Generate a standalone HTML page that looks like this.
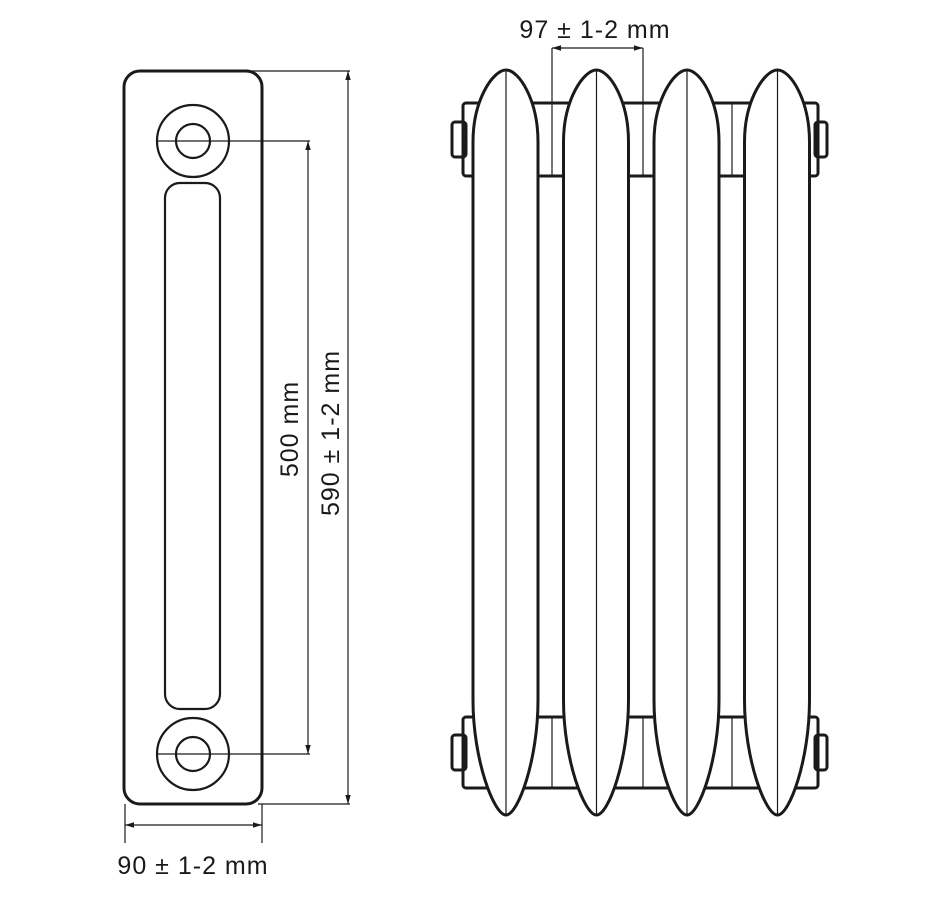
<!DOCTYPE html>
<html><head><meta charset="utf-8"><style>
html,body{margin:0;padding:0;background:#fff;}
svg{display:block;}
text{font-family:"Liberation Sans",sans-serif;fill:#1a1a1a;letter-spacing:1px;}
</style></head><body>
<svg width="945" height="898" viewBox="0 0 945 898" xmlns="http://www.w3.org/2000/svg">
<defs>
<marker id="a" viewBox="0 0 10 10" refX="10" refY="5" markerWidth="9" markerHeight="9" orient="auto-start-reverse" markerUnits="userSpaceOnUse"><path d="M0,2 L10,5 L0,8 Z" fill="#1a1a1a"/></marker>
</defs>
<g stroke="#1a1a1a" fill="none">
<rect x="124" y="71" width="138" height="733" rx="16" stroke-width="3" fill="#fff"/>
<circle cx="193" cy="141" r="36" stroke-width="2.2"/>
<circle cx="193" cy="141" r="17" stroke-width="2.2"/>
<circle cx="193" cy="754" r="36" stroke-width="2.2"/>
<circle cx="193" cy="754" r="17" stroke-width="2.2"/>
<rect x="165" y="183" width="55" height="526" rx="15" stroke-width="2.2"/>
<g stroke-width="1.2">
<line x1="157" y1="141" x2="310" y2="141"/>
<line x1="157" y1="754" x2="310" y2="754"/>
<line x1="308" y1="141" x2="308" y2="754" marker-start="url(#a)" marker-end="url(#a)"/>
<line x1="248" y1="71" x2="350" y2="71"/>
<line x1="258" y1="804" x2="350" y2="804"/>
<line x1="348" y1="71" x2="348" y2="804" marker-start="url(#a)" marker-end="url(#a)"/>
<line x1="125" y1="804" x2="125" y2="843"/>
<line x1="262" y1="804" x2="262" y2="843"/>
<line x1="125" y1="825" x2="262" y2="825" marker-start="url(#a)" marker-end="url(#a)"/>
<line x1="552" y1="48" x2="552" y2="176"/>
<line x1="643" y1="48" x2="643" y2="176"/>
<line x1="552" y1="48" x2="643" y2="48" marker-start="url(#a)" marker-end="url(#a)"/>
</g>
<g stroke-width="3">
<rect x="452" y="122" width="14" height="35" rx="3" fill="#fff"/>
<rect x="815" y="122" width="12" height="35" rx="3" fill="#fff"/>
<rect x="463" y="103" width="355" height="73" rx="3"/>
<rect x="452" y="735" width="14" height="35" rx="3" fill="#fff"/>
<rect x="815" y="735" width="12" height="35" rx="3" fill="#fff"/>
<rect x="463" y="717" width="355" height="71" rx="3"/>
</g>
<g stroke-width="1.2">
<line x1="552" y1="717" x2="552" y2="788"/>
<line x1="643" y1="717" x2="643" y2="788"/>
<line x1="732" y1="103" x2="732" y2="176"/>
<line x1="732" y1="717" x2="732" y2="788"/>
</g>
<g id="s">
<path d="M473,142 C473,100 493,70 506,70 C519,70 538,100 538,142 L538,700 C538,760 518,815 506,815 C494,815 473,760 473,700 Z" fill="#fff" stroke-width="3" stroke-linejoin="round"/>
<line x1="506" y1="71" x2="506" y2="814" stroke-width="1.2"/>
</g>
<use href="#s" x="90.5"/>
<use href="#s" x="181"/>
<use href="#s" x="271.5"/>
</g>
<text x="193" y="874" font-size="25" text-anchor="middle">90 ± 1-2 mm</text>
<text x="595" y="38" font-size="25" text-anchor="middle">97 ± 1-2 mm</text>
<text x="0" y="0" font-size="25" text-anchor="middle" transform="translate(298,429) rotate(-90)">500 mm</text>
<text x="0" y="0" font-size="25" text-anchor="middle" transform="translate(339,433) rotate(-90)">590 ± 1-2 mm</text>
</svg>
</body></html>
